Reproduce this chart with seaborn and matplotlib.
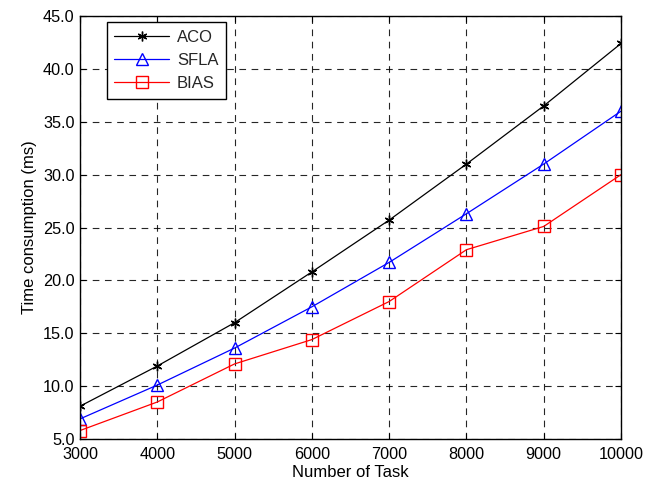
import matplotlib
matplotlib.use("Agg")
import matplotlib.pyplot as plt
import seaborn as sns
import pandas as pd

tasks = [3000, 4000, 5000, 6000, 7000, 8000, 9000, 10000]
aco = [8.1, 11.9, 16.0, 20.8, 25.7, 31.0, 36.5, 42.4]
sfla = [6.9, 10.1, 13.6, 17.5, 21.7, 26.3, 31.0, 36.0]
bias = [5.8, 8.5, 12.1, 14.4, 18.0, 22.9, 25.1, 30.0]
series_names = ["ACO", "SFLA", "BIAS"]
y_ticks = [5, 10, 15, 20, 25, 30, 35, 40, 45]

sns.set_theme(style="white")
plt.rcParams['font.family'] = ['Liberation Sans', 'DejaVu Sans']

fig = plt.figure(figsize=(6.59, 4.84), dpi=100)
ax = fig.add_axes([80/659, 45/484, 541/659, 423/484])

styles = {
    "ACO": dict(color="black", marker=(6, 2, 0), markersize=7, markerfacecolor="none", markeredgecolor="black", markeredgewidth=1.0),
    "SFLA": dict(color="blue", marker="^", markersize=9, markerfacecolor="none", markeredgecolor="blue", markeredgewidth=1.0),
    "BIAS": dict(color="red", marker="s", markersize=8, markerfacecolor="none", markeredgecolor="red", markeredgewidth=1.0),
}
for name, vals in zip(series_names, [aco, sfla, bias]):
    df = pd.DataFrame({"x": tasks, "y": vals})
    sns.lineplot(data=df, x="x", y="y", ax=ax, label=name, linewidth=0.9, **styles[name])

ax.set_xlim(3000, 10000)
ax.set_ylim(5, 45)
ax.set_xticks(tasks)
ax.set_xticklabels([str(t) for t in tasks])
ax.set_yticks(y_ticks)
ax.set_yticklabels([f"{v:.1f}" for v in y_ticks])
ax.tick_params(direction="in", length=4, width=0.8, labelsize=11.7, colors="black",
               top=True, right=True, bottom=True, left=True)
ax.tick_params(axis="x", pad=6)
ax.tick_params(axis="y", pad=4)
ax.grid(True, color="black", linestyle=(0, (6, 5)), linewidth=0.8, alpha=0.85)
for s in ax.spines.values():
    s.set_color("black")
    s.set_linewidth(1.0)
ax.set_xlabel("Number of Task", fontsize=12, color="black", labelpad=2)
ax.set_ylabel("Time consumption (ms)", fontsize=12, color="black", labelpad=4)

leg = ax.legend(loc="upper left", bbox_to_anchor=(107/659, 1 - 22/484), bbox_transform=fig.transFigure,
                frameon=True, fancybox=False, framealpha=1, edgecolor="black", fontsize=12,
                handlelength=3.3, borderpad=0.45, labelspacing=0.5, handletextpad=0.45, borderaxespad=0)
leg.get_frame().set_linewidth(1.0)

fig.savefig("out.png", dpi=100)
